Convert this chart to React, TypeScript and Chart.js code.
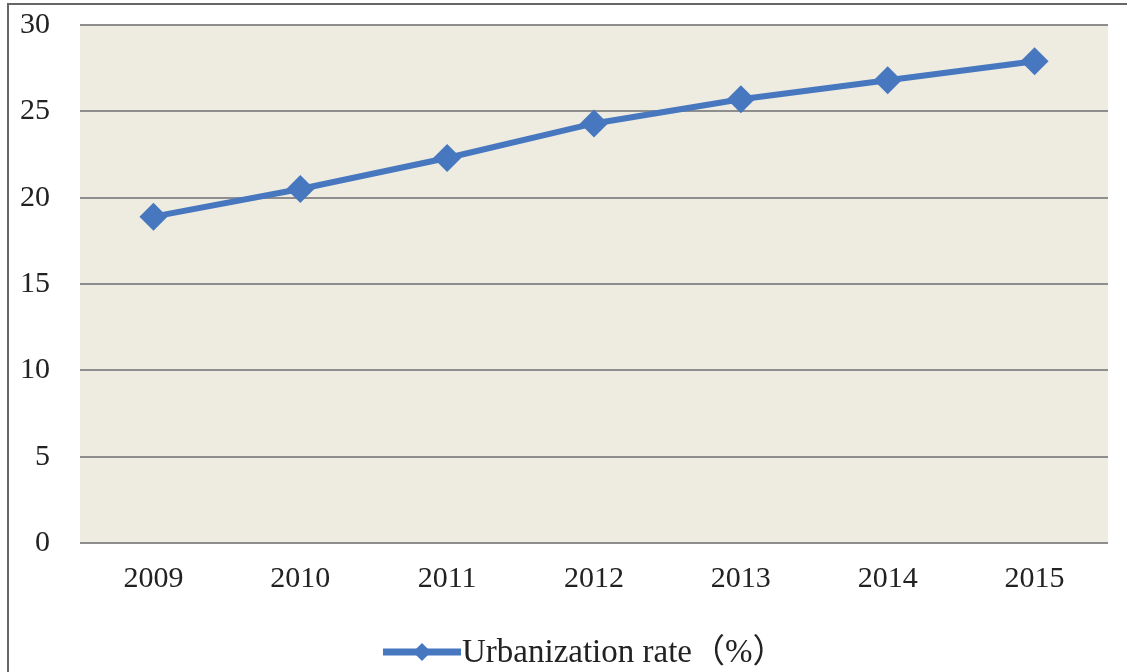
import React, { useEffect, useRef } from 'react';
import { Chart, registerables } from 'chart.js';

Chart.register(...registerables);

const years: string[] = ['2009', '2010', '2011', '2012', '2013', '2014', '2015'];
const urbanizationRate: number[] = [18.9, 20.5, 22.3, 24.3, 25.7, 26.8, 27.9];
const seriesLabel = 'Urbanization rate（%）';
const yTicks: number[] = [0, 5, 10, 15, 20, 25, 30];

const LINE_COLOR = '#4677BF';
const FONT_FAMILY = '"Liberation Serif", "Times New Roman", "Noto Sans CJK SC", serif';

const plotBackground = {
  id: 'plotBackground',
  beforeDraw(chart: any) {
    const { ctx, chartArea } = chart;
    if (!chartArea) return;
    ctx.save();
    ctx.fillStyle = '#EEEBE1';
    ctx.fillRect(chartArea.left, chartArea.top, chartArea.right - chartArea.left, chartArea.bottom - chartArea.top);
    ctx.restore();
  },
};

// Legend drawn below the axis: line segment with a diamond marker, then the series name.
const lineLegend = {
  id: 'lineLegend',
  afterDraw(chart: any) {
    const { ctx } = chart;
    const ds = chart.data.datasets[0];
    const y = 652;
    const x0 = 383;
    const lineLen = 78;
    ctx.save();
    ctx.strokeStyle = ds.borderColor;
    ctx.lineWidth = 7;
    ctx.beginPath();
    ctx.moveTo(x0, y);
    ctx.lineTo(x0 + lineLen, y);
    ctx.stroke();
    ctx.fillStyle = ds.borderColor;
    const cx = x0 + lineLen / 2;
    ctx.beginPath();
    ctx.moveTo(cx, y - 9);
    ctx.lineTo(cx + 9, y);
    ctx.lineTo(cx, y + 9);
    ctx.lineTo(cx - 9, y);
    ctx.closePath();
    ctx.fill();
    ctx.fillStyle = '#222';
    ctx.font = `33px ${FONT_FAMILY}`;
    ctx.textAlign = 'left';
    ctx.textBaseline = 'middle';
    ctx.fillText(ds.label, x0 + lineLen + 1, y + 1);
    ctx.restore();
  },
};

export default function App() {
  const canvasRef = useRef<HTMLCanvasElement | null>(null);

  useEffect(() => {
    document.body.style.margin = '0';
    const canvas = canvasRef.current;
    if (!canvas) return;
    const chart = new Chart(canvas, {
      type: 'line',
      data: {
        labels: years,
        datasets: [
          {
            label: seriesLabel,
            data: urbanizationRate,
            borderColor: LINE_COLOR,
            backgroundColor: LINE_COLOR,
            borderWidth: 6,
            pointStyle: 'rectRot',
            pointRadius: 14,
            pointHoverRadius: 14,
            pointBorderWidth: 0,
            pointBackgroundColor: LINE_COLOR,
            tension: 0,
          },
        ],
      },
      options: {
        responsive: false,
        animation: false,
        devicePixelRatio: 1,
        layout: { padding: { left: 0, right: 19, top: 25, bottom: 0 } },
        plugins: {
          tooltip: { enabled: false },
          legend: { display: false },
        },
        scales: {
          x: {
            type: 'category',
            offset: true,
            grid: { display: false, drawTicks: false },
            border: { display: false },
            ticks: {
              color: '#222',
              padding: 18,
              font: { family: FONT_FAMILY, size: 30 },
              maxRotation: 0,
            },
            afterFit: (scale: any) => {
              scale.height = 129;
            },
          },
          y: {
            min: 0,
            max: 30,
            afterBuildTicks: (scale: any) => {
              scale.ticks = yTicks.map((v) => ({ value: v }));
            },
            grid: { color: '#8E8E8E', lineWidth: 2, drawTicks: false },
            border: { display: false },
            ticks: {
              color: '#222',
              padding: 30,
              font: { family: FONT_FAMILY, size: 30 },
            },
            afterFit: (scale: any) => {
              scale.width = 80;
              scale.paddingTop = 0;
              scale.paddingBottom = 0;
            },
          },
        },
      },
      plugins: [plotBackground, lineLegend],
    });
    return () => chart.destroy();
  }, []);

  return (
    <div style={{ position: 'relative', width: 1127, height: 672, background: '#fff', overflow: 'hidden' }}>
      <canvas ref={canvasRef} width={1127} height={672} style={{ display: 'block', width: 1127, height: 672 }} />
      <div
        style={{
          position: 'absolute',
          left: 7,
          top: 3,
          right: 0,
          bottom: 0,
          borderTop: '2px solid #666',
          borderLeft: '2px solid #666',
          pointerEvents: 'none',
        }}
      />
    </div>
  );
}
